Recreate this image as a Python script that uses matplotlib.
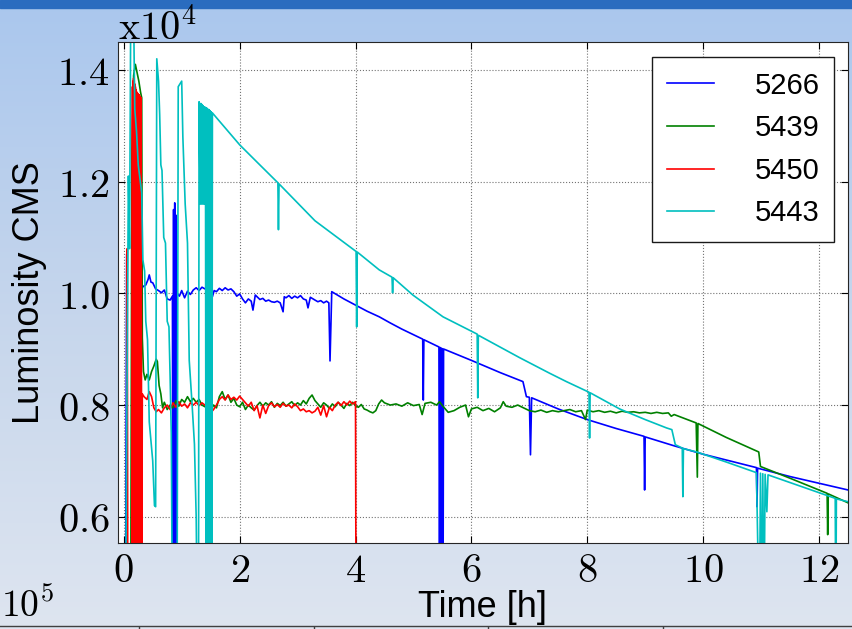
import numpy as np
import matplotlib
matplotlib.use("Agg")
import matplotlib.pyplot as plt
from matplotlib.colors import LinearSegmentedColormap
from matplotlib.ticker import FuncFormatter

plt.rcParams["mathtext.fontset"] = "cm"

# Fill numbers and their colours (classic matplotlib b, g, r, c)
fills = ["5266", "5439", "5450", "5443"]
colors = ["#0000ff", "#008000", "#ff0000", "#00bfbf"]

# Fill 5266 (blue): time [h], luminosity
t_5266 = [0.03, 0.05, 0.06, 0.25, 0.28, 0.33, 0.38, 0.42, 0.44, 0.47, 0.5, 0.55, 0.6, 0.65, 0.7, 0.75,
          0.8, 0.84, 0.85, 0.86, 0.87, 0.88, 0.89, 0.9, 0.91, 0.92, 0.96, 1.0, 1.05, 1.1, 1.15, 1.2,
          1.25, 1.3, 1.35, 1.4, 1.45, 1.5, 1.53, 1.56, 1.6, 1.65, 1.7, 1.75, 1.8, 1.85, 1.9, 1.95,
          2.0, 2.05, 2.1, 2.15, 2.2, 2.23, 2.27, 2.3, 2.35, 2.4, 2.45, 2.5, 2.55, 2.6, 2.65, 2.7,
          2.75, 2.77, 2.8, 2.85, 2.9, 2.95, 3.0, 3.05, 3.1, 3.15, 3.18, 3.22, 3.3, 3.35, 3.4, 3.45,
          3.5, 3.54, 3.56, 3.59, 3.8, 4.0, 4.2, 4.41, 4.6, 4.8, 5.0, 5.16, 5.17, 5.18, 5.44, 5.45,
          5.46, 5.47, 5.48, 5.49, 5.5, 5.51, 5.52, 5.53, 6.0, 6.5, 6.89, 6.95, 7.0, 7.02, 7.04, 7.5,
          8.0, 8.5, 8.98, 8.99, 9.0, 9.5, 10.0, 10.5, 10.92, 10.93, 10.94, 11.5, 12.0, 12.5]
lum_5266 = [4000, 10700, 4000, 4000, 10000, 10120, 10150, 10250, 10330, 10200, 10190, 10080, 10050,
            10010, 10060, 9900, 9880, 9950, 4000, 11500, 4000, 11620, 4000, 11400, 4000, 10000, 9950,
            10050, 9920, 10040, 9980, 10060, 10100, 10050, 10110, 10080, 10120, 10060, 9940, 10050,
            10030, 10090, 10050, 10100, 10060, 10080, 10030, 9950, 9990, 9900, 9830, 9900, 9860, 9700,
            9970, 9940, 9890, 9910, 9860, 9880, 9850, 9840, 9860, 9830, 9670, 9940, 9920, 9960, 9910,
            9950, 9920, 9960, 9900, 9880, 9740, 9930, 9880, 9850, 9870, 9830, 9860, 9830, 8790, 10030,
            9900, 9790, 9680, 9580, 9470, 9360, 9260, 9180, 8090, 9170, 9040, 4000, 9030, 4000, 9020,
            4000, 9010, 4000, 9000, 9000, 8800, 8580, 8420, 8150, 8140, 7110, 8130, 7930, 7740, 7580,
            7440, 6480, 7430, 7270, 7120, 6990, 6880, 6180, 6870, 6720, 6600, 6480]

# Fill 5439 (green)
t_5439 = [0.12, 0.14, 0.17, 0.2, 0.23, 0.26, 0.29, 0.31, 0.32, 0.34, 0.37, 0.4, 0.44, 0.48, 0.52,
          0.56, 0.58, 0.61, 0.64, 0.67, 0.7, 0.75, 0.8, 0.85, 0.9, 0.95, 1.0, 1.05, 1.1, 1.15, 1.2,
          1.25, 1.3, 1.35, 1.4, 1.45, 1.5, 1.55, 1.6, 1.65, 1.7, 1.75, 1.8, 1.85, 1.9, 1.95, 2.0,
          2.05, 2.1, 2.15, 2.2, 2.25, 2.3, 2.35, 2.4, 2.45, 2.5, 2.55, 2.6, 2.65, 2.7, 2.75, 2.8,
          2.85, 2.9, 2.95, 3.0, 3.05, 3.1, 3.15, 3.2, 3.25, 3.3, 3.35, 3.4, 3.45, 3.5, 3.55, 3.6,
          3.65, 3.7, 3.75, 3.8, 3.85, 3.9, 3.95, 4.0, 4.05, 4.1, 4.15, 4.2, 4.25, 4.3, 4.35, 4.4,
          4.45, 4.5, 4.6, 4.7, 4.8, 4.9, 5.0, 5.1, 5.15, 5.2, 5.3, 5.4, 5.45, 5.5, 5.6, 5.7, 5.8,
          5.9, 5.95, 6.0, 6.1, 6.2, 6.3, 6.4, 6.5, 6.55, 6.6, 6.7, 6.8, 6.9, 7.0, 7.1, 7.2, 7.3,
          7.4, 7.5, 7.6, 7.7, 7.8, 7.9, 7.97, 8.0, 8.1, 8.2, 8.3, 8.4, 8.5, 8.6, 8.7, 8.8, 8.9,
          9.0, 9.1, 9.2, 9.3, 9.4, 9.45, 9.5, 9.88, 9.9, 9.91, 10.4, 10.96, 10.99, 11.5, 12.0,
          12.14, 12.15, 12.16, 12.5]
lum_5439 = [4000, 12500, 13900, 14100, 13950, 13800, 13600, 13500, 9200, 8600, 8450, 8550, 8450,
            8600, 8700, 8820, 8780, 8350, 8200, 7950, 8050, 7920, 8000, 7950, 8080, 7980, 8100, 8050,
            8150, 8060, 8120, 8050, 8100, 8000, 7970, 8050, 7900, 8000, 7950, 8150, 8240, 8100, 8180,
            8050, 8120, 8000, 7970, 8050, 7920, 8000, 7950, 7910, 7990, 8050, 7980, 8040, 8000, 8060,
            7960, 8030, 7990, 8050, 7980, 8020, 8060, 7990, 8040, 8000, 8080, 8020, 8120, 8180, 8080,
            8020, 7960, 8040, 8000, 7940, 8020, 7970, 8050, 8000, 7940, 8030, 7990, 8050, 7990, 7960,
            8010, 7930, 7910, 7880, 7860, 7900, 8020, 8090, 8040, 8000, 8020, 7980, 8040, 7990, 8010,
            7830, 8030, 8050, 8000, 8060, 7990, 7870, 7900, 7960, 8000, 7790, 7930, 7960, 7900, 7940,
            7880, 7950, 8060, 7980, 7960, 8000, 7950, 7900, 7880, 7910, 7870, 7900, 7880, 7900, 7920,
            7880, 7900, 7740, 7910, 7880, 7900, 7870, 7890, 7860, 7890, 7870, 7880, 7860, 7870, 7850,
            7870, 7850, 7860, 7800, 7830, 7680, 6710, 7670, 7420, 7160, 6900, 6690, 6480, 6420, 5680,
            6410, 6250]

# Fill 5450 (red)
t_5450 = [0.05, 0.06, 0.07, 0.14, 0.15, 0.155, 0.16, 0.165, 0.17, 0.175, 0.18, 0.185, 0.19, 0.195,
          0.2, 0.205, 0.21, 0.215, 0.22, 0.225, 0.23, 0.235, 0.24, 0.245, 0.25, 0.255, 0.26, 0.265,
          0.27, 0.275, 0.28, 0.285, 0.29, 0.295, 0.3, 0.31, 0.32, 0.35, 0.4, 0.44, 0.48, 0.52, 0.56,
          0.6, 0.65, 0.7, 0.75, 0.8, 0.85, 0.9, 0.95, 1.0, 1.05, 1.1, 1.15, 1.2, 1.25, 1.3, 1.35,
          1.4, 1.45, 1.5, 1.55, 1.6, 1.65, 1.7, 1.75, 1.8, 1.85, 1.9, 1.95, 2.0, 2.05, 2.1, 2.15,
          2.2, 2.25, 2.3, 2.35, 2.4, 2.45, 2.5, 2.55, 2.6, 2.65, 2.7, 2.75, 2.8, 2.85, 2.9, 2.95,
          3.0, 3.05, 3.1, 3.15, 3.2, 3.25, 3.3, 3.35, 3.4, 3.45, 3.5, 3.55, 3.6, 3.65, 3.7, 3.75,
          3.8, 3.85, 3.9, 3.95, 4.0, 4.01]
lum_5450 = [4000, 10800, 4000, 4000, 13700, 4000, 13800, 4000, 13850, 4000, 13800, 4000, 13750, 4000,
            13700, 4000, 13650, 4000, 13600, 4000, 13600, 4000, 13580, 4000, 13560, 4000, 13550, 4000,
            13550, 4000, 13520, 4000, 13500, 4000, 13500, 4000, 8200, 8150, 8100, 8240, 8150, 7950,
            7880, 7920, 7860, 7950, 8000, 7920, 8040, 7960, 8060, 7980, 8020, 7950, 8040, 8000, 8050,
            7990, 8040, 8000, 7950, 7860, 7920, 8000, 8100, 8150, 8090, 8180, 8100, 8140, 8090, 8160,
            8100, 8040, 7980, 8050, 7900, 7990, 7770, 8000, 7850, 7990, 8040, 7970, 8010, 7960, 8030,
            7980, 8000, 7950, 8020, 7970, 7900, 7930, 7880, 7900, 7860, 7890, 7960, 7820, 7990, 7790,
            7960, 7900, 8000, 8050, 7990, 8060, 8000, 8070, 8020, 8060, 4000]

# Fill 5443 (cyan)
t_5443 = [0.03, 0.08, 0.1, 0.12, 0.17, 0.19, 0.22, 0.25, 0.28, 0.31, 0.33, 0.36, 0.38, 0.41, 0.44,
          0.5, 0.53, 0.55, 0.57, 0.6, 0.62, 0.64, 0.66, 0.69, 0.72, 0.75, 0.78, 0.8, 0.82, 0.84,
          0.92, 0.94, 1.0, 1.02, 1.06, 1.1, 1.13, 1.18, 1.22, 1.25, 1.27, 1.29, 1.3, 1.32, 1.33,
          1.34, 1.35, 1.36, 1.37, 1.38, 1.39, 1.4, 1.41, 1.42, 1.43, 1.44, 1.45, 1.46, 1.47, 1.48,
          1.49, 1.5, 1.51, 1.52, 1.53, 2.0, 2.3, 2.66, 2.67, 2.68, 3.3, 4.01, 4.02, 4.03, 4.41,
          4.63, 4.64, 4.65, 4.99, 5.51, 6.1, 6.11, 6.12, 6.83, 7.35, 7.64, 8.03, 8.04,
          8.05, 8.56, 9.0, 9.37, 9.46, 9.52, 9.64, 9.65, 9.66, 9.89, 10.4, 10.92, 10.97, 10.99,
          11.01, 11.03, 11.05, 11.07, 11.1, 11.12, 11.7, 12.28, 12.29, 12.3, 12.5]
lum_5443 = [4000, 12100, 10800, 15000, 15000, 13300, 12900, 12300, 12050, 11800, 10600, 10400, 9500,
            9170, 7700, 7000, 6200, 6180, 14200, 13800, 13200, 12300, 12200, 11000, 10900, 9500, 9400,
            8500, 7500, 4000, 4000, 13700, 13800, 12800, 11600, 10900, 8800, 8000, 7300, 6000, 4000,
            4000, 13430, 11600, 13400, 11600, 13380, 11600, 13360, 11600, 13340, 11600, 13330, 4000,
            13320, 4000, 13300, 4000, 13290, 4000, 13270, 4000, 13250, 4000, 13230, 12660, 12350,
            11980, 11140, 11960, 11300, 10750, 9400, 10740, 10420, 10290, 10010, 10280, 9970, 9580,
            9270, 8130, 9250, 8850, 8570, 8420, 8230, 7410, 8220, 7930, 7740, 7590, 7560,
            7290, 7230, 6360, 7220, 7160, 6980, 6790, 4000, 6780, 4000, 6770, 4000, 6760, 6090, 6750,
            6540, 6330, 4000, 6320, 6270]

series_t = [t_5266, t_5439, t_5450, t_5443]
series_lum = [lum_5266, lum_5439, lum_5450, lum_5443]

fig = plt.figure(figsize=(8.53, 6.29), dpi=100)

# slide background: light blue gradient, dark title bar, cut-off plot below
bg = fig.add_axes([0, 0, 1, 1], zorder=-10)
cmap = LinearSegmentedColormap.from_list("slide", ["#aac7ee", "#c6d6ec", "#dee5f0"])
bg.imshow(np.linspace(0, 1, 256)[:, None], aspect="auto", cmap=cmap, extent=[0, 1, 0, 1])
bg.axhspan(1 - 8 / 629, 1, color="#2a6cbf")
bg.axhline(3 / 629, color="0.25", lw=1)
bg.vlines(np.array([139, 314, 488, 663]) / 853, 0, 3 / 629, color="0.25", lw=1)
bg.set_xlim(0, 1)
bg.set_ylim(0, 1)
bg.axis("off")

ax = fig.add_axes([0.1383, 0.1367, 0.8558, 0.7965])
for t, lum, name, c in zip(series_t, series_lum, fills, colors):
    ax.plot(t, lum, color=c, lw=1.2, label=name)

ax.set_xlim(-0.1, 12.5)
ax.set_ylim(5530, 14500)
ax.set_xticks(range(0, 13, 2))
ax.set_yticks([6000, 8000, 10000, 12000, 14000])
ax.xaxis.set_major_formatter(FuncFormatter(lambda v, p: r"$%d$" % v))
ax.yaxis.set_major_formatter(FuncFormatter(lambda v, p: r"$%.1f$" % (v / 1e4)))
ax.tick_params(direction="in", top=True, right=True, length=5, width=0.8,
               labelsize=29, pad=6)
ax.grid(True, ls=":", color="0.45", lw=0.8)
for s in ax.spines.values():
    s.set_color("0.15")

ax.set_ylabel("Luminosity CMS", fontsize=26, family="Liberation Sans")
ax.yaxis.set_label_coords(-0.097, 0.5)
ax.set_xlabel("Time [h]", fontsize=26, family="Liberation Sans")
ax.xaxis.set_label_coords(0.5, -0.094)

leg = ax.legend(loc="upper right", bbox_to_anchor=(0.981, 0.970), fancybox=False,
                edgecolor="0.1", framealpha=1, prop={"family": "Liberation Sans", "size": 21},
                handlelength=1.6, handletextpad=1.4, labelspacing=0.5, borderpad=0.5,
                borderaxespad=0)
leg.get_frame().set_linewidth(1.0)

fig.text(118 / 853, 1 - 40 / 629, r"$\mathrm{x}10^4$", fontsize=29, va="baseline")
fig.text(0.001, 0.006, r"$10^5$", fontsize=27, va="bottom")

fig.savefig("out.png", dpi=100)
